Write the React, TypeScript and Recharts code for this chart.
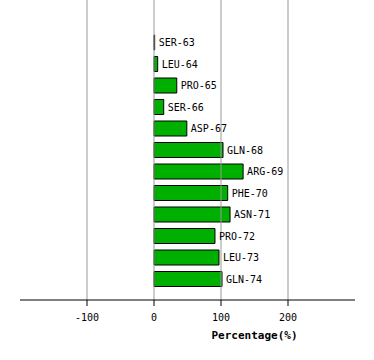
import React from 'react';
import { BarChart, Bar, XAxis, YAxis, ReferenceLine, LabelList } from 'recharts';

const residues = ['SER-63', 'LEU-64', 'PRO-65', 'SER-66', 'ASP-67', 'GLN-68', 'ARG-69', 'PHE-70', 'ASN-71', 'PRO-72', 'LEU-73', 'GLN-74'];
const percentages = [1, 5.5, 34, 14.5, 49, 103, 133, 110, 113.5, 91, 97, 101.5];
const xTicks = [-100, 0, 100, 200];

const data = residues.map((name, i) => ({ name, value: percentages[i] }));

const font = '"DejaVu Sans Mono", monospace';

const App: React.FC = () => {
  return (
    <div style={{ position: 'absolute', left: 0, top: 0 }}>
      <BarChart
        width={374}
        height={360}
        data={data}
        layout="vertical"
        margin={{ top: 0, right: 19, bottom: 20, left: 20 }}
      >
        <XAxis
          type="number"
          domain={[-200, 300]}
          ticks={xTicks}
          height={40}
          stroke="#000000"
          tickSize={6}
          tickMargin={8}
          tick={{ fill: '#000000', fontSize: 10, fontFamily: font }}
          label={{
            value: 'Percentage(%)',
            position: 'insideBottom',
            offset: 1,
            dx: 67,
            fill: '#000000',
            fontSize: 11,
            fontWeight: 'bold',
            fontFamily: font,
          }}
        />
        <YAxis type="category" dataKey="name" hide padding={{ top: 32, bottom: 10 }} />
        {xTicks.map((t) => (
          <ReferenceLine key={t} x={t} stroke="#999999" />
        ))}
        <Bar dataKey="value" fill="#00b000" stroke="#000000" strokeWidth={1} barSize={15} isAnimationActive={false}>
          <LabelList dataKey="name" position="right" offset={4} fill="#000000" fontSize={10} fontFamily={font} />
        </Bar>
      </BarChart>
    </div>
  );
};

export default App;
